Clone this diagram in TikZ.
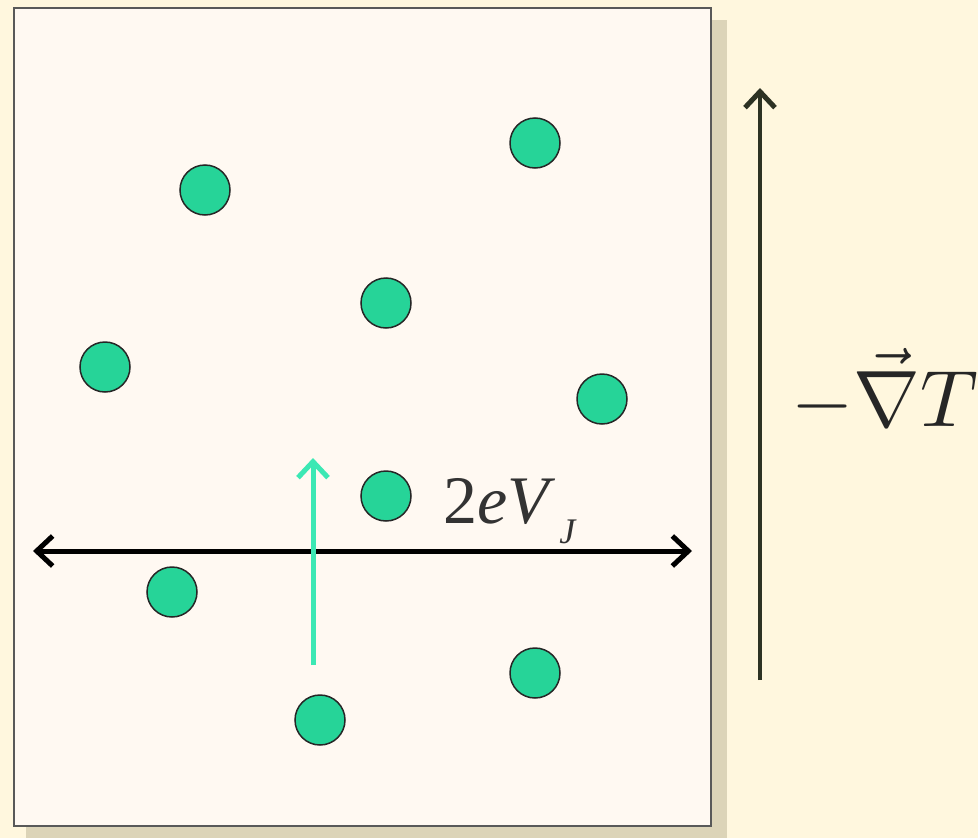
\documentclass[tikz,border=0pt]{standalone}
\usepackage{fontspec}
\setmainfont{Liberation Serif}
\usetikzlibrary{arrows.meta}
\definecolor{bgcream}{RGB}{255,247,222}
\definecolor{boxfill}{RGB}{255,249,242}
\definecolor{shadowc}{RGB}{220,212,184}
\definecolor{dotfill}{RGB}{38,212,152}
\definecolor{cyanarr}{RGB}{60,232,180}
\definecolor{darkolive}{RGB}{45,50,35}
\tikzset{
  dot/.style={circle,draw=black!85,line width=1.5pt,fill=dotfill,minimum size=50pt,inner sep=0pt},
  barb/.style={-{Straight Barb[length=16pt,width=30pt,line width=5pt]}},
}
\begin{document}
\begin{tikzpicture}[x=1pt,y=-1pt]
\useasboundingbox (0,0) rectangle (978,838);
\fill[bgcream] (0,0) rectangle (978,838);
\fill[shadowc] (26,20) rectangle (727,838);
\draw[black!65,line width=2pt,fill=boxfill] (14,8) rectangle (711,826);
\node[dot] (d1) at (205,190) {};
\node[dot] (d2) at (535,143) {};
\node[dot] (d3) at (386,303) {};
\node[dot] (d4) at (105,367) {};
\node[dot] (d5) at (602,399) {};
\node[dot] (d6) at (386,496) {};
\node[dot] (d7) at (172,592) {};
\node[dot] (d8) at (535,673) {};
\node[dot] (d9) at (320,720) {};
\coordinate (hl) at (33,551);
\coordinate (hr) at (692,551);
\draw[black,line width=5pt,{Straight Barb[length=16pt,width=30pt,line width=5pt]}-{Straight Barb[length=16pt,width=30pt,line width=5pt]}] (hl) -- (hr);
\coordinate (cb) at (313,665);
\coordinate (ct) at (313,458);
\draw[cyanarr,line width=5pt,barb] (cb) -- (ct);
\coordinate (rb) at (760,680);
\coordinate (rt) at (760,88);
\draw[darkolive,line width=4pt,barb] (rb) -- (rt);
\node[anchor=base west,inner sep=0pt,text=black!80,font=\fontsize{68}{72}\selectfont] (lab1) at (443,523) {{\upshape 2}\textit{eV}\hspace{4pt}\raisebox{-20pt}{\fontsize{36}{40}\selectfont\textit{J}}};
\node[anchor=base west,inner sep=0pt,text=black!85,scale=8.0] (lab2) at (790,426) {$-\vec{\nabla}T$};
\end{tikzpicture}
\end{document}
